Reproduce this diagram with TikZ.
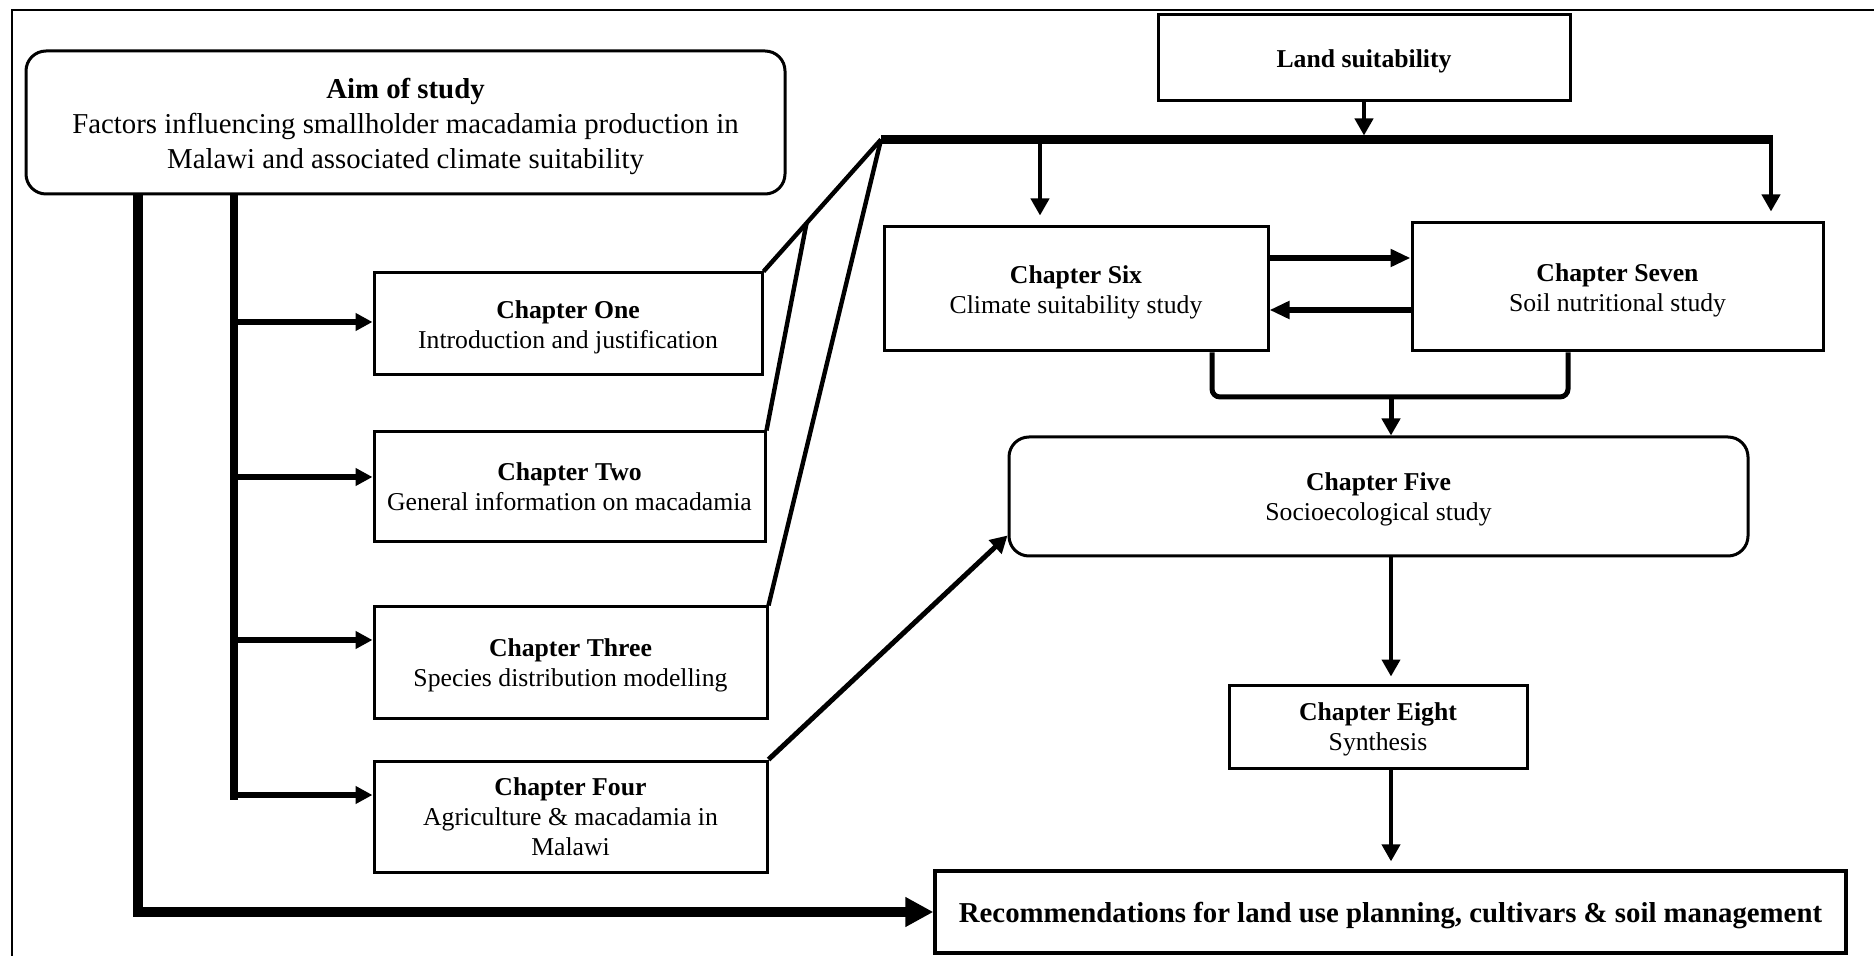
\documentclass[tikz,border=0pt]{standalone}
\usepackage{fontspec}
\setmainfont{Liberation Serif}
\usetikzlibrary{arrows.meta,calc}

% bold first line of a box, a little lower in the box
\newcommand{\hd}[1]{\rule{0pt}{0.95em}\textbf{#1}}

\begin{document}
\begin{tikzpicture}[x=0.5pt, y=-0.5pt,
	box/.style={draw, line width=1.5pt, align=center, inner sep=0pt, font=\fontsize{12.85}{15}\selectfont},
	roundbox/.style={box, rounded corners=10pt},
	arr/.style={line width=2pt, -{Triangle[length=8.5pt,width=9pt]}},
	midarr/.style={line width=3pt, -{Triangle[length=10pt,width=8.5pt]}},
	tap/.style={line width=3pt, -{Triangle[length=8.5pt,width=8.5pt]}},
	link/.style={line width=2.2pt},
	busline/.style={line width=4.5pt},
	branchline/.style={line width=4pt},
	trunkline/.style={line width=5pt, -{Triangle[length=14pt,width=14pt]}},
	bracket/.style={line width=2.5pt, rounded corners=4pt}]
		
		% Page size and frame
		\useasboundingbox (0,0) rectangle (1874,956);
		\draw[line width=1.3pt] (12,956) -- (12,10) -- (1874,10);
		
		% Aim of study
		\node[roundbox, minimum width=379.5pt, minimum height=71.5pt, font=\fontsize{14.4}{17.5}\selectfont] (aim) at (405.5,122.5)
		{\hd{Aim of study}\\Factors influencing smallholder macadamia production in\\Malawi and associated climate suitability};
		
		% Chapters on the left
		\node[box, minimum width=194pt, minimum height=51pt] (chone) at (568,324) {\hd{Chapter One}\\Introduction and justification};
		\node[box, minimum width=195.5pt, minimum height=55pt] (chtwo) at (569.5,487) {\textbf{Chapter Two}\\General information on macadamia};
		\node[box, minimum width=196.5pt, minimum height=55.5pt] (chthree) at (570.5,662.5) {\hd{Chapter Three}\\Species distribution modelling};
		\node[box, minimum width=196.5pt, minimum height=55.5pt] (chfour) at (570.5,816.5) {\textbf{Chapter Four}\\Agriculture \& macadamia in\\Malawi};
		
		% Land suitability and chapters on the right
		\node[box, minimum width=206pt, minimum height=43pt] (land) at (1364,58) {\hd{Land suitability}};
		\node[box, minimum width=192pt, minimum height=62pt] (chsix) at (1076,289) {\hd{Chapter Six}\\Climate suitability study};
		\node[box, minimum width=205.5pt, minimum height=64pt] (chseven) at (1617.5,287) {\hd{Chapter Seven}\\Soil nutritional study};
		\node[roundbox, minimum width=369.5pt, minimum height=59.5pt] (chfive) at (1378.5,496.5) {\hd{Chapter Five}\\Socioecological study};
		\node[box, minimum width=149pt, minimum height=41.5pt] (cheight) at (1378,726.5) {\hd{Chapter Eight}\\Synthesis};
		\node[box, line width=1.6pt, minimum width=455.5pt, minimum height=41pt, font=\fontsize{14.4}{17}\selectfont\bfseries] (recom) at (1390.5,912)
		{\hd{Recommendations for land use planning, cultivars \& soil management}};
		
		% Junction points
		\coordinate (busL) at (881,139.5);
		\coordinate (busR) at (1771,139.5);
		\coordinate (dropsix) at (1040,139.5);
		\coordinate (trunk) at (138,194);
		\coordinate (branch) at (234,194);
		\coordinate (spine) at (1391,397);
		
		% Land suitability bus
		\draw[busline] (busL) -- (busR);
		\draw[arr, shorten >=2pt] (land.south) -- (land.south |- busL);
		\draw[arr, shorten >=5pt] (dropsix) -- (dropsix |- chsix.north);
		\draw[arr, shorten >=5pt] ($(busR)+(0,-4.5)$) -- (busR |- chseven.north);
		
		% Six and Seven
		\draw[midarr] ($(chsix.east)+(0,-31)$) -- ($(chseven.west |- chsix.east)+(0,-31)$);
		\draw[midarr] ($(chseven.west |- chsix.east)+(0,21)$) -- ($(chsix.east)+(0,21)$);
		\draw[bracket] ($(chsix.south)+(136,0)$) |- (spine) -| ($(chseven.south)+(-49.5,0)$);
		\draw[arr, line width=2.5pt] (spine) -- (spine |- chfive.north);
		
		% Down to the recommendations
		\draw[arr, shorten >=3.5pt] (spine |- chfive.south) -- (spine |- cheight.north);
		\draw[arr, shorten >=4pt] (spine |- cheight.south) -- (spine |- recom.north);
		
		% Aim of study to the chapters
		\draw[trunkline] (trunk) |- (recom.west);
		\foreach \n/\y in {chone/322, chtwo/477, chthree/640, chfour/795} {
				\coordinate (tap-\n) at (234,\y);
				\draw[tap] (tap-\n) -- (tap-\n -| \n.west);
			}
		\draw[branchline] (branch) -- ($(tap-chfour)+(0,5)$);
		
		% Chapters to the bus and to Chapter Five
		\draw[link] (chone.north east) -- (busL);
		\draw[link] (chtwo.north east) -- ($(chone.north east)!0.366!(busL)$);
		\draw[link] (chthree.north east) -- (busL);
		\draw[arr, line width=2.5pt] (chfour.north east) -- (chfive.186.7);
		
	\end{tikzpicture}
\end{document}
